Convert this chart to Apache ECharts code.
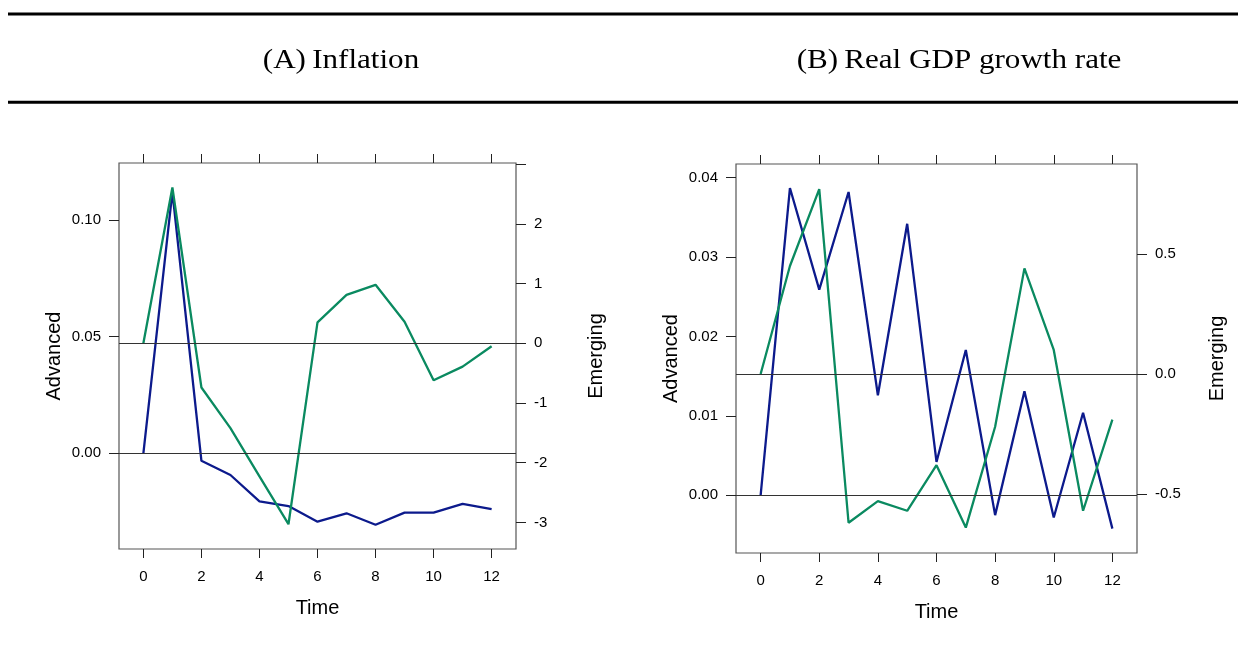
<!DOCTYPE html>
<html>
<head>
<meta charset="utf-8">
<title>Impulse responses: inflation and real GDP growth</title>
<script src="https://cdn.jsdelivr.net/npm/echarts@6/dist/echarts.min.js"></script>
<style>
  html, body { margin: 0; padding: 0; background: #ffffff; }
  #chart { width: 1238px; height: 659px; }
</style>
</head>
<body>
<div id="chart"></div>
<script>
// Horizon (periods after the shock)
const time = [0, 1, 2, 3, 4, 5, 6, 7, 8, 9, 10, 11, 12];

// Panel A: inflation responses
const inflAdvanced = [0, 0.112, -0.0032, -0.0093, -0.0206, -0.0226, -0.0293, -0.0257, -0.0306, -0.0254, -0.0254, -0.0217, -0.0239];
const inflEmerging = [0, 2.61, -0.74, -1.42, -2.23, -3.03, 0.35, 0.81, 0.98, 0.36, -0.62, -0.39, -0.05];

// Panel B: real GDP growth responses
const gdpAdvanced = [0, 0.0387, 0.0259, 0.0382, 0.0126, 0.0342, 0.0042, 0.0183, -0.0025, 0.0131, -0.0028, 0.0104, -0.0042];
const gdpEmerging = [0, 0.45, 0.77, -0.62, -0.53, -0.57, -0.38, -0.64, -0.22, 0.44, 0.10, -0.57, -0.19];

// Tick positions
const timeTicks = [0, 2, 4, 6, 8, 10, 12];
const inflAdvTicks = [0, 0.05, 0.10];
const inflEmTicks = [-3, -2, -1, 0, 1, 2, 3];
const inflEmLabels = [-3, -2, -1, 0, 1, 2];
const gdpAdvTicks = [0, 0.01, 0.02, 0.03, 0.04];
const gdpEmTicks = [-0.5, 0, 0.5];

// Panel titles
const panelTitles = ['(A)\u2009Inflation', '(B)\u2009Real GDP growth rate'];

const BLUE = '#0c1a8c';
const GREEN = '#0a8a60';
const SANS = '"Liberation Sans", Arial, Helvetica, sans-serif';
const SERIF = '"Liberation Serif", "Times New Roman", serif';

const pairs = (xs, ys) => xs.map((x, i) => [x, ys[i]]);

function xAxes(gridIndex) {
  const base = {
    type: 'value', gridIndex: gridIndex, min: -0.84, max: 12.84,
    splitLine: { show: false }, axisLine: { show: false, onZero: false }
  };
  return [
    Object.assign({}, base, {
      position: 'bottom',
      name: 'Time', nameLocation: 'middle', nameGap: 49,
      nameTextStyle: { fontFamily: SANS, fontSize: 20, color: '#000' },
      axisTick: { show: true, length: 9, customValues: timeTicks, lineStyle: { color: '#222', width: 1 } },
      axisLabel: { show: true, margin: 20, customValues: timeTicks, fontFamily: SANS, fontSize: 15, color: '#000' }
    }),
    Object.assign({}, base, {
      position: 'top',
      axisTick: { show: true, length: 9, customValues: timeTicks, lineStyle: { color: '#222', width: 1 } },
      axisLabel: { show: false }
    })
  ];
}

function yAxis(gridIndex, pos, min, max, ticks, labels, digits, name, gap) {
  return {
    type: 'value', gridIndex: gridIndex, position: pos, min: min, max: max,
    splitLine: { show: false }, axisLine: { show: false, onZero: false },
    name: name, nameLocation: 'middle', nameRotate: 90, nameGap: gap,
    nameTextStyle: { fontFamily: SANS, fontSize: 20, color: '#000' },
    axisTick: { show: true, length: 10, customValues: ticks, lineStyle: { color: '#222', width: 1 } },
    axisLabel: {
      show: true, margin: 18, customValues: labels,
      fontFamily: SANS, fontSize: 15, color: '#000',
      formatter: v => Number(v).toFixed(digits)
    }
  };
}

function zeroLine() {
  return {
    symbol: 'none', silent: true, label: { show: false },
    lineStyle: { color: '#333', width: 1.2, type: 'solid' },
    emphasis: { disabled: true },
    data: [{ yAxis: 0 }]
  };
}

function line(name, xi, yi, data, color) {
  return {
    name: name, type: 'line', xAxisIndex: xi, yAxisIndex: yi,
    data: data, showSymbol: false, symbol: 'none', animation: false,
    lineStyle: { color: color, width: 2.3 }, itemStyle: { color: color },
    markLine: zeroLine(), z: 3
  };
}

const chart = echarts.init(document.getElementById('chart'), null, { renderer: 'canvas' });

chart.setOption({
  backgroundColor: '#ffffff',
  animation: false,
  graphic: [
    { type: 'rect', shape: { x: 8, y: 12.5, width: 1230, height: 3 }, style: { fill: '#000' } },
    { type: 'rect', shape: { x: 8, y: 100.7, width: 1230, height: 3 }, style: { fill: '#000' } },
    { type: 'text', x: 341, y: 61, scaleX: 1.11, style: { text: panelTitles[0], font: '28px ' + SERIF, fill: '#000', textAlign: 'center', textVerticalAlign: 'middle' } },
    { type: 'text', x: 959, y: 61, scaleX: 1.11, style: { text: panelTitles[1], font: '28px ' + SERIF, fill: '#000', textAlign: 'center', textVerticalAlign: 'middle' } }
  ],
  grid: [
    { left: 119, top: 163, width: 397, height: 386, show: true, borderColor: '#555', borderWidth: 1.2, backgroundColor: 'transparent' },
    { left: 736, top: 164, width: 401, height: 389, show: true, borderColor: '#555', borderWidth: 1.2, backgroundColor: 'transparent' }
  ],
  xAxis: xAxes(0).concat(xAxes(1)),
  yAxis: [
    yAxis(0, 'left', -0.041, 0.1244, inflAdvTicks, inflAdvTicks, 2, 'Advanced', 55),
    yAxis(0, 'right', -3.445, 3.02, inflEmTicks, inflEmLabels, 0, 'Emerging', 70),
    yAxis(1, 'left', -0.00727, 0.04173, gdpAdvTicks, gdpAdvTicks, 2, 'Advanced', 55),
    yAxis(1, 'right', -0.746, 0.875, gdpEmTicks, gdpEmTicks, 1, 'Emerging', 70)
  ],
  series: [
    line('Advanced', 0, 0, pairs(time, inflAdvanced), BLUE),
    line('Emerging', 0, 1, pairs(time, inflEmerging), GREEN),
    line('Advanced', 2, 2, pairs(time, gdpAdvanced), BLUE),
    line('Emerging', 2, 3, pairs(time, gdpEmerging), GREEN)
  ]
});
</script>
</body>
</html>
